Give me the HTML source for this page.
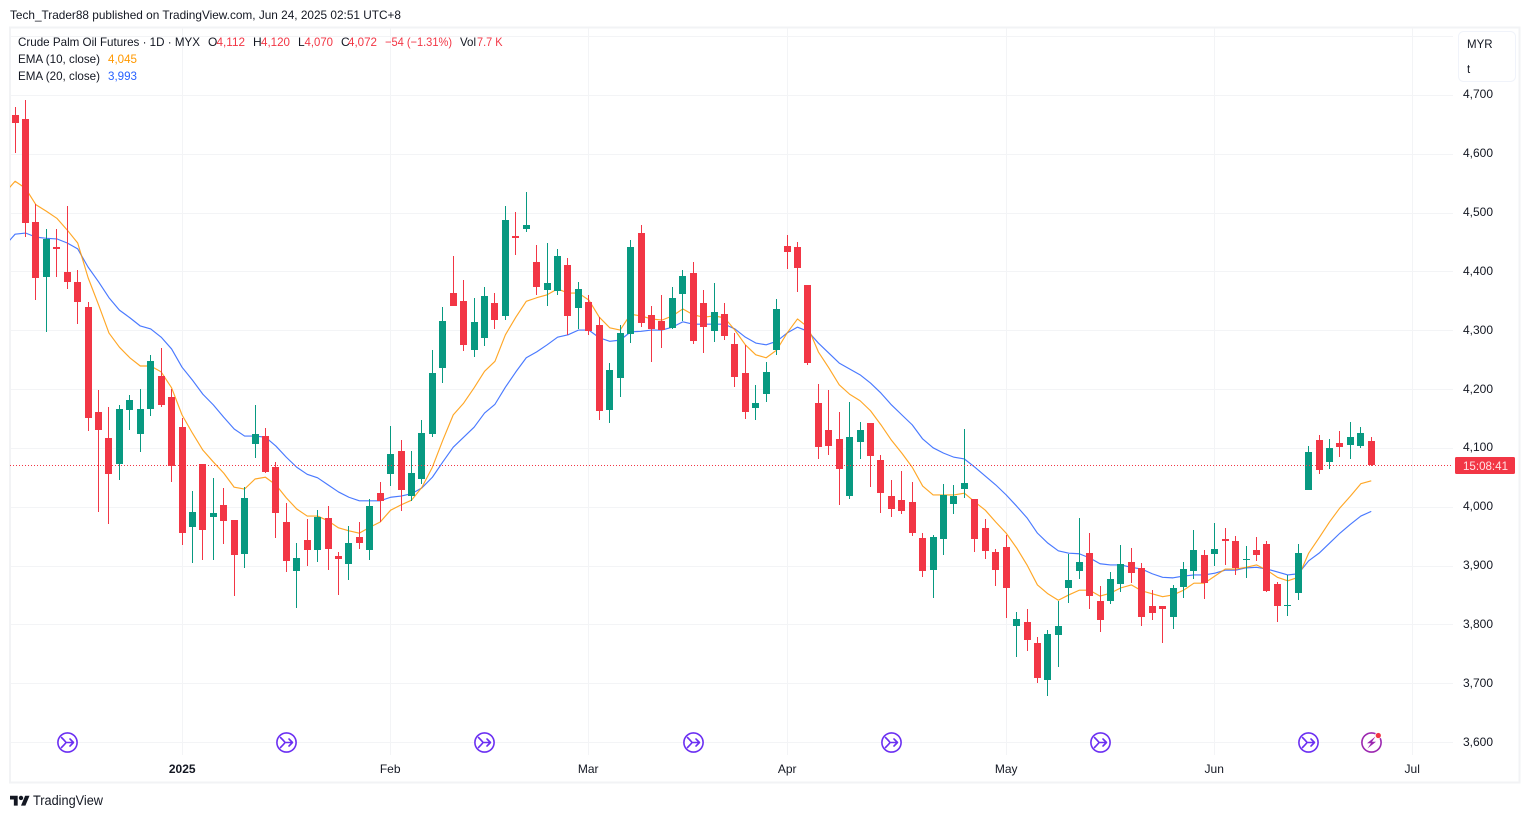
<!DOCTYPE html>
<html lang="en">
<head>
<meta charset="utf-8">
<title>Crude Palm Oil Futures Chart</title>
<style>
html,body{margin:0;padding:0;background:#fff;}
body{width:1530px;height:818px;overflow:hidden;}
svg{display:block;font-family:"Liberation Sans",Arial,sans-serif;}
</style>
</head>
<body>
<svg id="chart" xmlns="http://www.w3.org/2000/svg" width="1530" height="818" viewBox="0 0 1530 818">
  <defs>
    <clipPath id="pane-clip"><rect x="10" y="28" width="1443" height="727"/></clipPath>
  </defs>
  <rect x="0" y="0" width="1530" height="818" fill="#ffffff"/>
  <text x="10" y="19" font-size="12" fill="#131722" textLength="391" lengthAdjust="spacingAndGlyphs">Tech_Trader88 published on TradingView.com, Jun 24, 2025 02:51 UTC+8</text>
  <rect x="10" y="27.5" width="1509.5" height="755" fill="none" stroke="#f2f3f5" stroke-width="2"/>
  <g id="grid"></g>
  <g id="ema-lines" clip-path="url(#pane-clip)"></g>
  <g id="candles" clip-path="url(#pane-clip)"></g>
  <line id="last-price-line" x1="10" x2="1453" stroke="#f23645" stroke-width="1" stroke-dasharray="1 2"/>
  <g id="y-axis"></g>
  <g id="x-axis"></g>
  <g id="events"></g>

  <g>
    <rect x="1455" y="457" width="60" height="17" rx="1.5" fill="#f23645"/>
    <text x="1463" y="470" font-size="12" fill="#ffe3e5" textLength="45" lengthAdjust="spacingAndGlyphs">15:08:41</text>
  </g>

  <g>
    <rect x="1458.5" y="31.5" width="57" height="50" rx="5" fill="#ffffff" stroke="#f0f3fa" stroke-width="1"/>
    <text x="1467" y="48" font-size="11.5" fill="#131722">MYR</text>
    <text x="1467" y="73" font-size="11.5" fill="#131722">t</text>
  </g>

  <g font-size="12">
    <text x="18" y="46" fill="#131722" textLength="182" lengthAdjust="spacingAndGlyphs">Crude Palm Oil Futures · 1D · MYX</text>
    <text x="208" y="46" fill="#131722">O</text>
    <text x="216.5" y="46" fill="#f23645" textLength="28.5" lengthAdjust="spacingAndGlyphs">4,112</text>
    <text x="253" y="46" fill="#131722">H</text>
    <text x="261" y="46" fill="#f23645" textLength="29" lengthAdjust="spacingAndGlyphs">4,120</text>
    <text x="298" y="46" fill="#131722">L</text>
    <text x="304.5" y="46" fill="#f23645" textLength="28.5" lengthAdjust="spacingAndGlyphs">4,070</text>
    <text x="341" y="46" fill="#131722">C</text>
    <text x="348" y="46" fill="#f23645" textLength="29" lengthAdjust="spacingAndGlyphs">4,072</text>
    <text x="385" y="46" fill="#f23645" textLength="67" lengthAdjust="spacingAndGlyphs">−54 (−1.31%)</text>
    <text x="460" y="46" fill="#131722" textLength="16" lengthAdjust="spacingAndGlyphs">Vol</text>
    <text x="477" y="46" fill="#f23645" textLength="25.5" lengthAdjust="spacingAndGlyphs">7.7 K</text>
    <text x="18" y="63" fill="#131722" textLength="82" lengthAdjust="spacingAndGlyphs">EMA (10, close)</text>
    <text x="108" y="63" fill="#ff9800" textLength="29" lengthAdjust="spacingAndGlyphs">4,045</text>
    <text x="18" y="80" fill="#131722" textLength="82" lengthAdjust="spacingAndGlyphs">EMA (20, close)</text>
    <text x="108" y="80" fill="#2962ff" textLength="29" lengthAdjust="spacingAndGlyphs">3,993</text>
  </g>

  <g>
    <g transform="translate(10 793.5) scale(0.55)" fill="#131722">
      <path d="M14 22H7V11H0V4h14v18zM28 22h-8l7.5-18h8L28 22z"/>
      <circle cx="20" cy="8" r="4"/>
    </g>
    <text x="33" y="805" font-size="13.5" fill="#131722" textLength="70" lengthAdjust="spacingAndGlyphs">TradingView</text>
  </g>
</svg>
<script>
const opens = [
4666,4660,4485,4392,4442,4400,4383,4340,4162,4118,
4073,4165,4124,4167,4223,4187,4136,3966,4073,3983,
4004,3978,3921,4107,4121,4068,3975,3892,3944,3927,
3982,3917,3904,3949,3927,4024,4056,4096,4019,4048,
4124,4237,4364,4350,4267,4288,4347,4325,4461,4473,
4417,4369,4367,4412,4339,4349,4310,4165,4220,4294,
4466,4327,4316,4305,4362,4398,4347,4299,4328,4277,
4228,4169,4192,4267,4444,4442,4378,4177,4131,4116,
4019,4111,4143,4080,4019,4012,4009,3948,3893,3946,
4006,4031,4014,3965,3924,3932,3798,3805,3769,3706,
3783,3863,3892,3922,3841,3841,3870,3907,3897,3832,
3832,3813,3865,3892,3919,3921,3946,3943,3910,3927,
3937,3870,3832,3854,4029,4114,4077,4109,4106,4104,
4112];
const highs = [
4680,4692,4516,4473,4473,4512,4403,4349,4199,4170,
4174,4191,4201,4259,4271,4201,4152,4028,4073,4050,
4033,3978,4034,4174,4135,4077,4007,3939,3980,3995,
4002,3924,3968,3975,4014,4043,4138,4114,4096,4148,
4267,4340,4427,4386,4356,4374,4364,4512,4502,4536,
4446,4449,4439,4424,4383,4361,4323,4245,4310,4454,
4480,4342,4361,4374,4403,4417,4369,4381,4347,4296,
4276,4208,4247,4354,4463,4451,4378,4209,4199,4162,
4179,4145,4143,4089,4046,4062,4043,3956,3953,4040,
4038,4133,4014,3980,3929,3953,3822,3827,3779,3791,
3841,3921,3982,3956,3866,3890,3936,3931,3905,3859,
3832,3868,3907,3961,3927,3973,3965,3951,3934,3949,
3943,3873,3885,3937,4104,4123,4116,4130,4145,4136,
4120];
const lows = [
4602,4460,4352,4297,4392,4371,4311,4130,3992,3972,
4046,4131,4094,4155,4170,4043,3936,3905,3910,3910,
3937,3849,3897,4084,4058,3948,3890,3829,3900,3907,
3893,3851,3876,3929,3910,3975,4036,3994,4011,4040,
4119,4211,4342,4265,4255,4274,4303,4318,4429,4468,
4361,4342,4361,4293,4303,4293,4148,4143,4187,4279,
4306,4247,4271,4303,4316,4277,4262,4281,4284,4204,
4150,4148,4179,4259,4405,4366,4242,4082,4089,4004,
4014,4082,4034,3990,3983,3988,3951,3881,3846,3919,
3988,4016,3924,3912,3866,3812,3746,3756,3701,3679,
3729,3837,3878,3827,3788,3836,3856,3871,3798,3808,
3769,3793,3846,3878,3844,3900,3902,3885,3880,3909,
3856,3805,3815,3842,4029,4056,4065,4085,4082,4101,
4070];
const closes = [
4653,4483,4390,4456,4439,4382,4348,4152,4131,4056,
4167,4182,4167,4249,4174,4070,3956,3992,3961,3990,
3977,3919,4016,4124,4060,3990,3909,3914,3927,3983,
3929,3912,3939,3939,4002,4011,4090,4029,4058,4126,
4228,4316,4342,4276,4315,4359,4318,4488,4458,4480,
4374,4381,4427,4325,4371,4299,4164,4233,4296,4442,
4313,4303,4301,4356,4393,4282,4306,4332,4291,4221,
4162,4177,4230,4337,4434,4406,4245,4102,4104,4065,
4119,4131,4087,4024,3997,3994,3956,3892,3949,4021,
4019,4041,3946,3926,3893,3863,3810,3774,3710,3785,
3798,3876,3907,3849,3808,3878,3904,3888,3813,3820,
3827,3863,3895,3927,3871,3929,3943,3897,3912,3919,
3858,3832,3834,3922,4094,4063,4101,4102,4119,4126,
4072];
/* EMA series: first value belongs to the bar just before the visible range */
const ema10 = [4534,
4554,4542,4514,4503,4491,4471,4449,4390,4344,4296,
4272,4254,4240,4240,4230,4203,4157,4126,4097,4077,
4058,4034,4031,4048,4051,4038,4016,3997,3985,3985,
3977,3965,3960,3956,3966,3975,3995,4004,4012,4034,
4068,4114,4157,4177,4203,4231,4248,4293,4323,4350,
4356,4361,4371,4364,4364,4352,4323,4305,4301,4328,
4325,4320,4318,4325,4337,4327,4323,4325,4322,4301,
4276,4259,4254,4267,4296,4320,4306,4264,4237,4208,
4192,4181,4164,4140,4114,4092,4068,4036,4021,4021,
4021,4024,4009,3995,3975,3956,3931,3902,3868,3853,
3842,3851,3859,3859,3849,3854,3863,3868,3858,3853,
3848,3851,3859,3871,3871,3883,3895,3895,3898,3902,
3893,3881,3875,3881,3922,3948,3975,3999,4019,4040,
4045];
const ema20 = [4444,
4464,4466,4459,4457,4456,4449,4439,4408,4383,4356,
4335,4322,4308,4303,4289,4269,4238,4216,4192,4174,
4153,4133,4121,4121,4119,4104,4085,4068,4056,4050,
4038,4026,4017,4011,4011,4011,4017,4019,4023,4033,
4051,4077,4102,4119,4136,4160,4175,4204,4230,4254,
4264,4276,4289,4293,4301,4301,4288,4282,4284,4298,
4299,4301,4301,4306,4315,4311,4311,4311,4311,4303,
4289,4279,4276,4282,4296,4306,4299,4279,4262,4245,
4235,4225,4211,4194,4174,4157,4140,4116,4101,4092,
4085,4082,4068,4053,4038,4021,4002,3982,3956,3939,
3926,3922,3921,3914,3904,3902,3902,3898,3895,3887,
3881,3880,3883,3885,3885,3888,3893,3893,3897,3898,
3895,3890,3885,3887,3909,3922,3939,3956,3971,3985,
3993];
const priceTicks = [3600,3700,3800,3900,4000,4100,4200,4300,4400,4500,4600,4700];
const gridOnlyTicks = [4800];
const timeLabels = ["2025","Feb","Mar","Apr","May","Jun","Jul"];
const timeLabelBars = [16,36,55,74,95,115,134];
const eventBars = [5,26,45,65,84,104,124];
const lightningBars = [130];
const lastClose = 4072;

const NS = 'http://www.w3.org/2000/svg';
function yAxis(p){ return 95.3 + (4700 - p) * 0.5885; }
function xAxis(i){ return 15.1 + i * 10.432; }
function mk(tag, attrs, parent){
  const el = document.createElementNS(NS, tag);
  for (const k in attrs) el.setAttribute(k, attrs[k]);
  parent.appendChild(el);
  return el;
}
function fmt(p){ return String(p).replace(/\B(?=(\d{3})+$)/g, ','); }

/* grid */
const gridG = document.getElementById('grid');
priceTicks.concat(gridOnlyTicks).forEach(function(p){
  const y = Math.floor(yAxis(p)) + 0.5;
  const l = mk('line', {x1:11, x2:1453, y1:y, y2:y, stroke:'#f3f4f6', 'stroke-width':1}, gridG);
  
  
});
timeLabelBars.forEach(function(b){
  const x = Math.floor(xAxis(b)) + 0.5;
  const l = mk('line', {x1:x, x2:x, y1:28, y2:755, stroke:'#f3f4f6', 'stroke-width':1}, gridG);
  
  
});

/* price axis */
const yG = document.getElementById('y-axis');
priceTicks.forEach(function(p){
  const t = mk('text', {x:1463, y:Math.round(yAxis(p) + 3), 'font-size':12, fill:'#131722'}, yG);
  
  
  t.textContent = fmt(p);
});

/* time axis */
const xG = document.getElementById('x-axis');
timeLabels.forEach(function(lab, k){
  const t = mk('text', {x:Math.floor(xAxis(timeLabelBars[k])) + 0.2, y:773, 'font-size':12, fill:'#131722', 'text-anchor':'middle'}, xG);
  
  
  if (lab === '2025') t.setAttribute('font-weight', 'bold');
  t.textContent = lab;
});

/* EMA lines */
const emaG = document.getElementById('ema-lines');
function drawEma(values, color, name){
  const pts = values.map(function(v, k){
    return xAxis(k - 1).toFixed(2) + ',' + yAxis(v).toFixed(2);
  }).join(' ');
  const pl = mk('polyline', {points:pts, fill:'none', stroke:color, 'stroke-width':1.15, 'stroke-linejoin':'round', opacity:0.85}, emaG);
  
  
}
drawEma(ema20, '#2962ff', 'ema-20-line');
drawEma(ema10, '#ff9800', 'ema-10-line');

/* candles */
const cG = document.getElementById('candles');
opens.forEach(function(o, i){
  const c = closes[i];
  const col = c >= o ? '#089981' : '#f23645';
  const wx = Math.floor(xAxis(i));
  const g = mk('g', {fill:col}, cG);
  
  
  const yH = Math.round(yAxis(highs[i]));
  const yL = Math.round(yAxis(lows[i]));
  const yT = Math.round(yAxis(Math.max(o, c)));
  const yB = Math.round(yAxis(Math.min(o, c)));
  const wick = mk('rect', {x:wx, y:yH, width:1, height:Math.max(1, yL - yH)}, g);
  
  
  const body = mk('rect', {x:wx - 3, y:yT, width:7, height:Math.max(1, yB - yT)}, g);
  
  
});

/* last price line */
const lastY = Math.round(yAxis(lastClose)) + 0.5;
const lastLine = document.getElementById('last-price-line');
lastLine.setAttribute('y1', lastY);
lastLine.setAttribute('y2', lastY);

/* event markers */
const evG = document.getElementById('events');
eventBars.forEach(function(b){
  const cx = Math.floor(xAxis(b)) + 0.5, cy = 742.5;
  const g = mk('g', {fill:'none', stroke:'#6b2ff2', 'stroke-width':1.6, 'stroke-linecap':'round', 'stroke-linejoin':'round'}, evG);
  
  
  mk('circle', {cx:cx, cy:cy, r:9.6, fill:'#ffffff'}, g);
  mk('path', {d:'M'+(cx-6)+' '+(cy-5)+'Q'+(cx-2)+' '+(cy-1)+' '+(cx-1.5)+' '+cy+'Q'+(cx-2)+' '+(cy+1)+' '+(cx-6)+' '+(cy+5)+'M'+(cx-1.5)+' '+cy+'H'+(cx+6)+'M'+(cx+2.5)+' '+(cy-3.5)+'L'+(cx+6)+' '+cy+'L'+(cx+2.5)+' '+(cy+3.5)}, g);
});
lightningBars.forEach(function(b){
  const cx = Math.floor(xAxis(b)) + 0.5, cy = 742.5;
  const g = mk('g', {}, evG);
  
  
  mk('circle', {cx:cx, cy:cy, r:9.6, fill:'#ffffff', stroke:'#9c27b0', 'stroke-width':1.6}, g);
  mk('path', {d:'M'+(cx+4)+' '+(cy-6)+'L'+(cx-4.5)+' '+(cy+0.8)+'H'+(cx-0.5)+'L'+(cx-4)+' '+(cy+6)+'L'+(cx+4.5)+' '+(cy-0.8)+'H'+(cx+0.5)+'Z', fill:'#9c27b0'}, g);
  mk('circle', {cx:cx + 6.8, cy:cy - 7, r:3.4, fill:'#ffffff'}, g);
  mk('circle', {cx:cx + 6.8, cy:cy - 7, r:2.6, fill:'#f23645'}, g);
});
</script>
</body>
</html>
